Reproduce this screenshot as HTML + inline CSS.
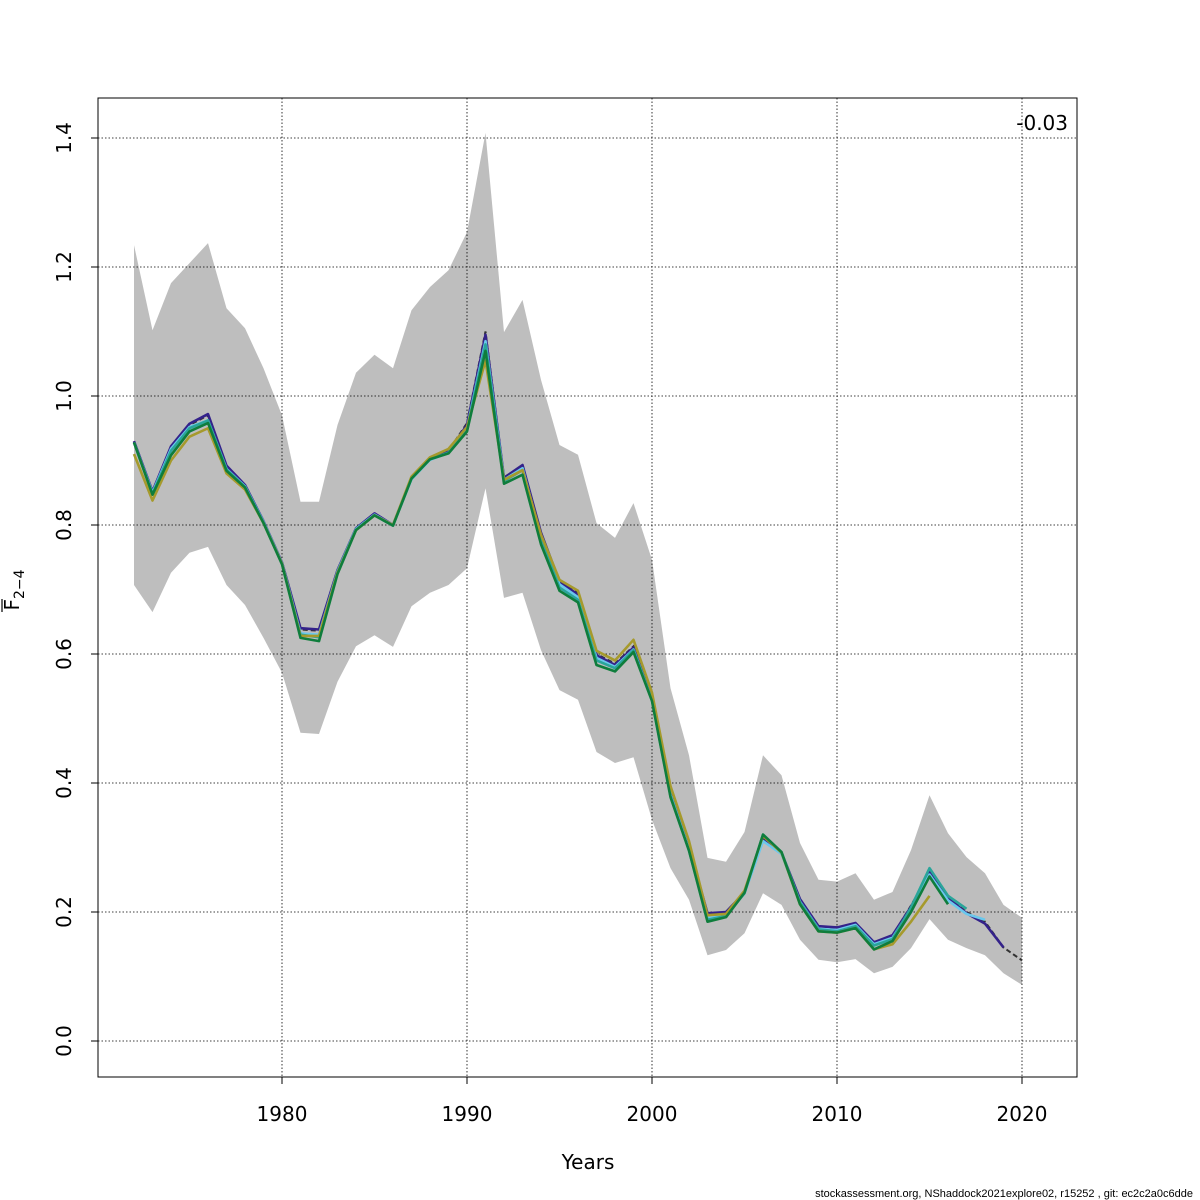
<!DOCTYPE html>
<html><head><meta charset="utf-8"><style>
body{margin:0;background:#fff}
svg{display:block;font-family:"DejaVu Sans","Liberation Sans",sans-serif}
</style></head><body>
<svg id="c" width="1200" height="1200" viewBox="0 0 1200 1200"></svg>
<script>
const years0 = 1972;
const upper = [1.234,1.102,1.175,1.206,1.237,1.136,1.105,1.043,0.970,0.836,0.836,0.955,1.036,1.064,1.043,1.133,1.169,1.195,1.254,1.408,1.099,1.149,1.025,0.924,0.909,0.803,0.780,0.834,0.746,0.547,0.443,0.284,0.278,0.324,0.443,0.412,0.307,0.250,0.247,0.260,0.219,0.231,0.296,0.381,0.322,0.285,0.260,0.211,0.191];
const lower = [0.707,0.665,0.726,0.757,0.766,0.707,0.676,0.625,0.571,0.478,0.476,0.557,0.612,0.629,0.611,0.674,0.695,0.707,0.733,0.857,0.687,0.695,0.606,0.544,0.529,0.448,0.431,0.440,0.343,0.268,0.219,0.133,0.141,0.167,0.229,0.211,0.157,0.126,0.122,0.127,0.105,0.115,0.144,0.189,0.157,0.144,0.133,0.105,0.087];
const fMain = [0.93,0.85,0.92,0.955,0.97,0.89,0.862,0.806,0.742,0.638,0.636,0.73,0.795,0.818,0.80,0.873,0.903,0.915,0.958,1.10,0.874,0.892,0.785,0.712,0.695,0.60,0.585,0.612,0.53,0.385,0.30,0.195,0.197,0.23,0.315,0.293,0.218,0.178,0.175,0.182,0.152,0.163,0.21,0.26,0.222,0.20,0.185,0.145,0.125];
const fPurple = [0.93,0.852,0.922,0.957,0.972,0.892,0.862,0.806,0.742,0.640,0.638,0.73,0.795,0.818,0.80,0.873,0.903,0.914,0.955,1.095,0.873,0.893,0.788,0.712,0.692,0.598,0.583,0.610,0.530,0.386,0.301,0.198,0.200,0.230,0.312,0.292,0.220,0.178,0.176,0.183,0.153,0.164,0.208,0.262,0.222,0.198,0.182,0.145];
const fLblue = [0.928,0.850,0.918,0.952,0.962,0.887,0.860,0.805,0.741,0.632,0.630,0.728,0.794,0.816,0.800,0.871,0.901,0.912,0.950,1.085,0.870,0.888,0.780,0.708,0.688,0.594,0.580,0.607,0.528,0.382,0.297,0.190,0.195,0.229,0.310,0.290,0.216,0.174,0.172,0.180,0.150,0.160,0.205,0.258,0.218,0.197,0.188];
const fTeal = [0.928,0.848,0.915,0.950,0.962,0.886,0.859,0.804,0.740,0.630,0.626,0.727,0.793,0.815,0.799,0.872,0.902,0.912,0.948,1.080,0.868,0.885,0.777,0.703,0.684,0.590,0.578,0.606,0.528,0.380,0.295,0.188,0.194,0.229,0.320,0.293,0.215,0.173,0.170,0.178,0.148,0.158,0.207,0.268,0.225,0.205];
const fGreen = [0.928,0.847,0.908,0.945,0.958,0.884,0.858,0.803,0.739,0.625,0.620,0.724,0.792,0.815,0.799,0.872,0.902,0.911,0.945,1.070,0.864,0.878,0.770,0.698,0.680,0.583,0.573,0.603,0.527,0.378,0.295,0.185,0.192,0.230,0.320,0.293,0.212,0.170,0.168,0.175,0.142,0.155,0.200,0.255,0.212];
const fOlive = [0.910,0.838,0.900,0.937,0.950,0.880,0.855,0.803,0.740,0.628,0.628,0.726,0.792,0.815,0.800,0.875,0.905,0.918,0.952,1.055,0.870,0.885,0.785,0.715,0.698,0.605,0.590,0.622,0.540,0.395,0.310,0.195,0.197,0.233,0.318,0.292,0.212,0.170,0.168,0.175,0.142,0.150,0.185,0.225];
const xTicks = [1980,1990,2000,2010,2020];
const yTicks = [0,0.2,0.4,0.6,0.8,1.0,1.2,1.4];
const yTickLabels = ["0.0","0.2","0.4","0.6","0.8","1.0","1.2","1.4"];

const X = yr => 282 + (yr-1980)*18.5;
const Y = v => 1041 - v*645;
const NS = "http://www.w3.org/2000/svg";
const svg = document.getElementById('c');
function el(t, a){const e=document.createElementNS(NS,t);for(const k in a)e.setAttribute(k,a[k]);svg.appendChild(e);return e;}

let pts = upper.map((v,i)=>X(years0+i)+','+Y(v));
for(let i=lower.length-1;i>=0;i--) pts.push(X(years0+i)+','+Y(lower[i]));
const band = el('polygon',{points:pts.join(' '),fill:'#bebebe',stroke:'none'});



xTicks.forEach(t=>{const g=el('line',{x1:X(t),x2:X(t),y1:98,y2:1077,stroke:'#000','stroke-width':0.8,'stroke-dasharray':'1.5,2'});

});
yTicks.forEach(t=>{const g=el('line',{x1:98,x2:1077,y1:Y(t),y2:Y(t),stroke:'#000','stroke-width':0.8,'stroke-dasharray':'1.5,2'});

});

const m=el('polyline',{points:fMain.map((v,i)=>X(years0+i)+','+Y(v)).join(' '),fill:'none',stroke:'#333','stroke-width':2,'stroke-dasharray':'5,3'});


const series = [[fPurple,'#34228a','purple'],[fLblue,'#6ac8ec','light-blue'],[fTeal,'#2aa59a','teal'],[fOlive,'#a69a2c','olive'],[fGreen,'#0f7d3c','green']];
series.forEach(([d,c,n])=>{
  const p=el('polyline',{points:d.map((v,i)=>X(years0+i)+','+Y(v)).join(' '),fill:'none',stroke:c,'stroke-width':2.6,'stroke-linejoin':'round'});
  
  
});

const fr=el('rect',{x:98,y:98,width:979,height:979,fill:'none',stroke:'#000','stroke-width':1});



xTicks.forEach(t=>{
  el('line',{x1:X(t),x2:X(t),y1:1077,y2:1084,stroke:'#000'});
  const tx=el('text',{x:X(t),y:1121,'font-size':20,'text-anchor':'middle'});tx.textContent=t;
  
  
});
yTicks.forEach((t,i)=>{
  el('line',{x1:91,x2:98,y1:Y(t),y2:Y(t),stroke:'#000'});
  const tx=el('text',{x:0,y:0,'font-size':20,'text-anchor':'middle',transform:`translate(71,${Y(t)}) rotate(-90)`});tx.textContent=yTickLabels[i];
  
  
});
</script>
<svg style="position:absolute;left:0;top:0" width="1200" height="1200">
<text x="588" y="1169" font-size="20" text-anchor="middle" font-family="DejaVu Sans, sans-serif">Years</text>
<g transform="translate(19,590) rotate(-90)">
<text x="0" y="0" font-size="20" text-anchor="middle" font-family="DejaVu Sans, sans-serif">F<tspan font-size="14" dy="5">2−4</tspan></text>
<line x1="-22" x2="-9" y1="-17" y2="-17" stroke="#000" stroke-width="1.2"/>
</g>
<text x="1068" y="130" font-size="20" text-anchor="end" font-family="DejaVu Sans, sans-serif">-0.03</text>
<text x="1193" y="1197" font-size="11" text-anchor="end" font-family="Liberation Sans, sans-serif">stockassessment.org, NShaddock2021explore02, r15252 , git: ec2c2a0c6dde</text>
</svg>
</body></html>
